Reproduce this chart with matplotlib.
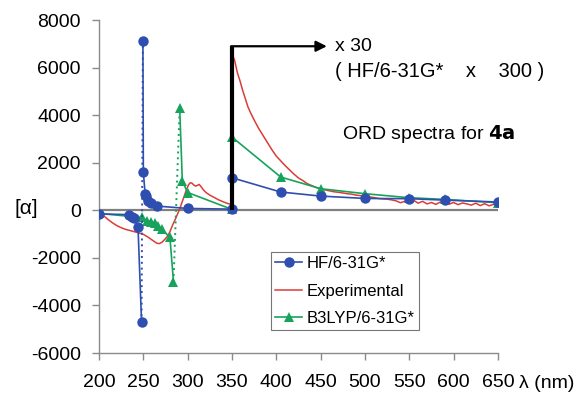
import matplotlib
matplotlib.use("Agg")
import matplotlib.pyplot as plt
from matplotlib.lines import Line2D

plt.rcParams['font.family'] = ['Liberation Sans', 'DejaVu Sans']
plt.rcParams['axes.unicode_minus'] = False

# HF/6-31G* (below 350 nm: raw; the pole is bridged by a dotted segment)
hf_wl_a = [200, 234, 237, 240, 244, 248]
hf_val_a = [-150, -180, -260, -320, -700, -4700]
hf_wl_b = [249.5, 250, 252, 253, 255, 259, 265, 300, 350]
hf_val_b = [7100, 1600, 700, 600, 390, 320, 180, 80, 50]
# HF/6-31G* above 350 nm (x 300)
hf_wl_c = [350, 405, 450, 500, 550, 590, 650]
hf_val_c = [1370, 770, 600, 500, 490, 430, 350]

# B3LYP/6-31G*
b3_wl_a = [200, 248, 254, 259, 263, 267, 271, 280, 284]
b3_val_a = [-130, -300, -430, -470, -540, -650, -800, -1140, -3000]
b3_wl_b = [291, 294, 300, 350]
b3_val_b = [4300, 1230, 750, 40]
# B3LYP/6-31G* above 350 nm (x 30)
b3_wl_c = [350, 405, 450, 500, 550, 590, 650]
b3_val_c = [3080, 1400, 910, 700, 530, 460, 320]

# Experimental
exp_wl_a = [200, 205, 210, 215, 220, 225, 230, 235, 240, 245, 250, 255, 260,
            265, 268, 271, 274, 277, 280, 283, 286, 289, 292, 295, 298, 301,
            303, 305, 307, 309, 311, 313, 315, 318, 321, 325, 330, 335, 340,
            345, 350]
exp_val_a = [-130, -220, -380, -520, -640, -730, -800, -850, -900, -950, -1010,
             -1120, -1250, -1380, -1400, -1340, -1230, -1100, -900, -620, -380,
             -120, 160, 480, 800, 1080, 1160, 1140, 1060, 1020, 1050, 1090, 1000,
             850, 740, 640, 540, 440, 360, 290, 240]
# Experimental above 350 nm (x 30)
exp_wl_c = [350, 353, 356, 359, 362, 365, 368, 371, 375, 380, 385, 390, 395,
            400, 405, 410, 415, 420, 425, 430, 435, 440, 445, 450, 455, 460,
            465, 470, 475, 480, 485, 490, 495, 500, 505, 510, 515, 520, 525,
            530, 535, 540, 545, 550, 555, 560, 565, 570, 575, 580, 585, 590,
            595, 600, 605, 610, 615, 620, 625, 630, 635, 640, 645, 650]
exp_val_c = [6600, 6300, 5800, 5450, 5050, 4700, 4350, 4100, 3800, 3450, 3150,
             2850, 2550, 2280, 2080, 1880, 1700, 1520, 1360, 1250, 1120, 1040,
             960, 900, 860, 820, 780, 760, 730, 700, 680, 640, 620, 580, 560,
             540, 500, 480, 470, 440, 400, 320, 380, 330, 420, 300, 380, 270,
             330, 250, 350, 300, 260, 330, 240, 310, 270, 220, 300, 200, 280,
             190, 250, 230]

x_ticks = [200, 250, 300, 350, 400, 450, 500, 550, 600, 650]
y_ticks = [-6000, -4000, -2000, 0, 2000, 4000, 6000, 8000]

BLUE = '#2f4fb0'
RED = '#dc3c37'
GREEN = '#17a35c'

fig = plt.figure(figsize=(5.79, 3.94), dpi=100)
ax = fig.add_axes([0.171, 0.104, 0.689, 0.845])
ax.set_xlim(200, 650)
ax.set_ylim(-6000, 8000)

ax.axhline(0, color='#808080', lw=1.6, zorder=1)

mk = dict(markersize=7.5, markeredgewidth=0)

# Experimental
ax.plot(exp_wl_a, exp_val_a, color=RED, lw=1.1, zorder=2)
ax.plot(exp_wl_c, exp_val_c, color=RED, lw=1.1, zorder=2)

# B3LYP
ax.plot(b3_wl_a, b3_val_a, color=GREEN, lw=1.2, marker='^', zorder=3, **mk)
ax.plot([b3_wl_a[-1], b3_wl_b[0]], [b3_val_a[-1], b3_val_b[0]], color=GREEN,
        lw=1.4, ls=(0, (1, 2)), zorder=3)
ax.plot(b3_wl_b, b3_val_b, color=GREEN, lw=1.2, marker='^', zorder=3, **mk)
ax.plot(b3_wl_c, b3_val_c, color=GREEN, lw=1.2, marker='^', zorder=3, **mk)

# HF
ax.plot(hf_wl_a, hf_val_a, color=BLUE, lw=1.2, marker='o', zorder=4, **mk)
ax.plot([hf_wl_a[-1], hf_wl_b[0]], [hf_val_a[-1], hf_val_b[0]], color=BLUE,
        lw=1.4, ls=(0, (1, 2)), zorder=4)
ax.plot(hf_wl_b, hf_val_b, color=BLUE, lw=1.2, marker='o', zorder=4, **mk)
ax.plot(hf_wl_c, hf_val_c, color=BLUE, lw=1.2, marker='o', zorder=4, **mk)

# scale-change marker at 350 nm
ax.plot([350, 350], [0, 6900], color='black', lw=3, zorder=5,
        solid_capstyle='butt')
ax.annotate('', xy=(457, 6900), xytext=(349, 6900),
            arrowprops=dict(arrowstyle='-|>', color='black', lw=1.6,
                            mutation_scale=16, shrinkA=0, shrinkB=0),
            zorder=5)
ax.text(466, 6900, 'x 30', fontsize=14, va='center', ha='left')
ax.text(466, 5850, '( HF/6-31G*    x    300 )', fontsize=14.5, va='center',
        ha='left')
ax.text(572, 3200, 'ORD spectra for $\\bf{4a}$', fontsize=14, va='center',
        ha='center')

# axes styling
for s in ['top', 'right']:
    ax.spines[s].set_visible(False)
for s in ['left', 'bottom']:
    ax.spines[s].set_color('#8a8a8a')
    ax.spines[s].set_linewidth(1.0)
ax.set_xticks(x_ticks)
ax.set_yticks(y_ticks)
ax.tick_params(axis='both', colors='#8a8a8a', labelcolor='black',
               labelsize=14, length=5, width=1.0)
ax.tick_params(axis='y', pad=8)
ax.tick_params(axis='x', pad=10)

fig.text(26 / 579, 1 - 208 / 394, '[α]', fontsize=15, ha='center',
         va='center')
fig.text(519 / 579, 1 - 383 / 394, 'λ (nm)', fontsize=14, ha='left',
         va='center')

handles = [
    Line2D([], [], color=BLUE, lw=1.2, marker='o', **mk),
    Line2D([], [], color=RED, lw=1.1),
    Line2D([], [], color=GREEN, lw=1.2, marker='^', **mk),
]
labels = ['HF/6-31G*', 'Experimental', 'B3LYP/6-31G*']
leg = fig.legend(handles, labels, loc='upper left',
                 bbox_to_anchor=(271 / 579, 1 - 252 / 394), fontsize=12,
                 frameon=True, fancybox=False, borderpad=0.25,
                 handlelength=1.6, handletextpad=0.3, labelspacing=0.75,
                 borderaxespad=0)
leg.get_frame().set_edgecolor('#555555')
leg.get_frame().set_linewidth(0.8)

fig.savefig('out.png', dpi=100)
